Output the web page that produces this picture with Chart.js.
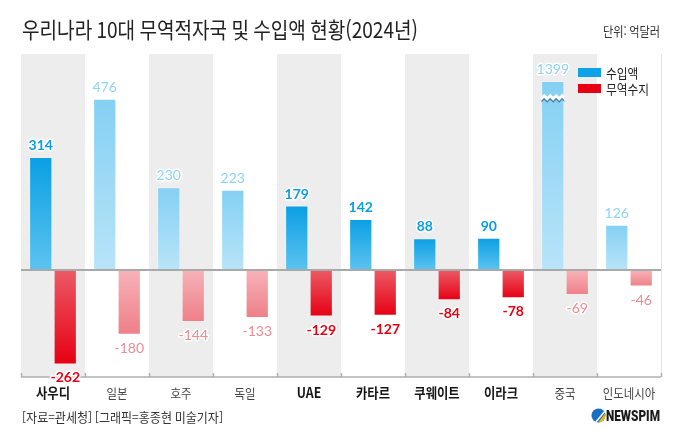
<!DOCTYPE html>
<html lang="ko">
<head>
<meta charset="UTF-8">
<title>우리나라 10대 무역적자국 및 수입액 현황(2024년)</title>
<script src="https://cdn.jsdelivr.net/npm/chart.js"></script>
<style>
  html, body { margin: 0; padding: 0; background: #fff; }
  #wrap { position: relative; width: 680px; height: 442px; }
</style>
</head>
<body>
<div id="wrap"><canvas id="chart"></canvas></div>
<script>
// 국가
var countries = ['사우디', '일본', '호주', '독일', 'UAE', '카타르', '쿠웨이트', '이라크', '중국', '인도네시아'];
// 수입액 (억달러)
var importValues = [314, 476, 230, 223, 179, 142, 88, 90, 1399, 126];
// 무역수지 (억달러)
var balanceValues = [-262, -180, -144, -133, -129, -127, -84, -78, -69, -46];
// 강조 국가 (중동)
var highlighted = ['사우디', 'UAE', '카타르', '쿠웨이트', '이라크'];

// 축 범위와 생략(물결) 구간
var yMin = -297, yMax = 600;
var capValue = 525;
var breakValue = 480;

var KR = '"Noto Sans CJK KR", "Noto Sans", sans-serif';

function isHi(i) { return highlighted.indexOf(countries[i]) >= 0; }

// 글자 가로폭을 줄여서 그리기 (원본 폰트가 약간 좁은 고딕)
function txt(c, s, x, y, font, color, align, sx, fitW) {
    c.save();
    c.font = font;
    c.fillStyle = color;
    c.textBaseline = 'middle';
    var w0 = c.measureText(s).width;
    if (fitW) sx = fitW / w0;
    var w = w0 * sx;
    var x0 = align === 'center' ? x - w / 2 : (align === 'right' ? x - w : x);
    c.translate(x0, y);
    c.scale(sx, 1);
    c.textAlign = 'left';
    c.fillText(s, 0, 0);
    c.restore();
}

function barGradient(context, topColor, bottomColor) {
    var chart = context.chart;
    if (!chart.chartArea || context.raw === undefined) return topColor;
    var ys = chart.scales.y;
    var p1 = ys.getPixelForValue(context.raw), p0 = ys.getPixelForValue(0);
    var top = Math.min(p0, p1), bottom = Math.max(p0, p1);
    if (bottom - top < 1) bottom = top + 1;
    var g = chart.ctx.createLinearGradient(0, top, 0, bottom);
    g.addColorStop(0, topColor);
    g.addColorStop(1, bottomColor);
    return g;
}

var decorPlugin = {
    id: 'decor',
    beforeDatasetsDraw: function (chart) {
        var c = chart.ctx, a = chart.chartArea, xs = chart.scales.x;
        var colW = (a.right - a.left) / countries.length;
        c.save();
        c.fillStyle = '#ededed';
        countries.forEach(function (name, i) {
            if (i % 2 === 0) {
                var cx = xs.getPixelForValue(i);
                c.fillRect(cx - colW / 2, a.top, colW, a.bottom - a.top);
            }
        });
        c.strokeStyle = '#e2e2e2';
        c.lineWidth = 1;
        c.beginPath();
        c.moveTo(a.right + 0.5, a.top);
        c.lineTo(a.right + 0.5, a.bottom);
        c.stroke();
        c.restore();
    },
    afterDatasetsDraw: function (chart) {
        var c = chart.ctx, a = chart.chartArea, xs = chart.scales.x, ys = chart.scales.y;
        var colW = (a.right - a.left) / countries.length;
        c.save();

        // 0 기준선
        var y0 = ys.getPixelForValue(0);
        c.strokeStyle = '#a9a9a9';
        c.lineWidth = 2;
        c.beginPath();
        c.moveTo(a.left, y0);
        c.lineTo(a.right, y0);
        c.stroke();

        // 아래 축선과 눈금
        c.strokeStyle = '#b0b0b0';
        c.lineWidth = 1.5;
        c.beginPath();
        c.moveTo(a.left, a.bottom);
        c.lineTo(a.right, a.bottom);
        for (var k = 0; k <= countries.length; k++) {
            var bx = Math.round(xs.getPixelForValue(0) - colW / 2 + k * colW) + 0.5;
            c.moveTo(bx, a.bottom);
            c.lineTo(bx, a.bottom - 4);
        }
        c.stroke();

        // 물결 생략 표시
        var meta0 = chart.getDatasetMeta(0);
        importValues.forEach(function (v, i) {
            if (v <= capValue) return;
            var p = meta0.data[i].getProps(['x', 'width'], true);
            var L = p.x - p.width / 2, R = p.x + p.width / 2;
            var yb = ys.getPixelForValue(breakValue);
            var step = 3, n = Math.ceil((R - L) / step);
            c.save();
            c.beginPath();
            c.rect(L, yb - 6, R - L, 14);
            c.clip();
            // 그림자
            c.strokeStyle = 'rgba(35,75,100,0.6)';
            c.lineWidth = 1.5;
            c.beginPath();
            for (var j = 0; j <= n; j++) {
                var zx = L + j * step, zy = yb + 3 + (j % 2 ? -1.5 : 1.5);
                if (j === 0) c.moveTo(zx, zy); else c.lineTo(zx, zy);
            }
            c.stroke();
            // 흰 띠
            c.fillStyle = '#fff';
            c.beginPath();
            for (j = 0; j <= n; j++) {
                zx = L + j * step; zy = yb - 2 + (j % 2 ? -1.5 : 1.5);
                if (j === 0) c.moveTo(zx, zy); else c.lineTo(zx, zy);
            }
            for (j = n; j >= 0; j--) {
                zx = L + j * step; zy = yb + 2 + (j % 2 ? -1.5 : 1.5);
                c.lineTo(zx, zy);
            }
            c.closePath();
            c.fill();
            c.restore();
        });

        // 값 라벨
        c.lineJoin = 'round';
        c.textAlign = 'center';
        c.textBaseline = 'alphabetic';
        var meta1 = chart.getDatasetMeta(1);
        countries.forEach(function (name, i) {
            var hi = isHi(i);
            var font = (hi ? 'bold ' : '') + '14px Lato, sans-serif';
            c.font = font;
            c.lineWidth = 3;
            c.strokeStyle = '#fff';

            var b = meta0.data[i].getProps(['x', 'y'], true);
            var s = String(importValues[i]);
            c.fillStyle = hi ? '#0b9de2' : '#8ed3f4';
            c.strokeText(s, b.x, b.y - 7);
            c.fillText(s, b.x, b.y - 7);

            var r = meta1.data[i].getProps(['x', 'y'], true);
            s = String(balanceValues[i]);
            c.fillStyle = hi ? '#e60012' : '#f08a92';
            c.strokeText(s, r.x, r.y + 18);
            c.fillText(s, r.x, r.y + 18);
        });
        c.restore();
    },
    afterDraw: function (chart) {
        var c = chart.ctx, a = chart.chartArea, xs = chart.scales.x;

        // 제목, 단위
        txt(c, '우리나라 10대 무역적자국 및 수입액 현황(2024년)', 22, 30, '400 22px ' + KR, '#222', 'left', 1, 396);
        txt(c, '단위: 억달러', 660, 31, '400 13px ' + KR, '#333', 'right', 0.86);

        // 범례
        c.save();
        c.fillStyle = '#0ea2e6';
        c.fillRect(578, 68, 23, 9);
        c.fillStyle = '#e60012';
        c.fillRect(578, 84, 23, 9);
        c.restore();
        txt(c, '수입액', 606, 73, '400 13px ' + KR, '#222', 'left', 0.9);
        txt(c, '무역수지', 606, 89, '400 13px ' + KR, '#222', 'left', 0.9);

        // 국가 이름
        countries.forEach(function (name, i) {
            var hi = isHi(i);
            txt(c, name, xs.getPixelForValue(i), 393,
                (hi ? '700 14px ' : '400 13px ') + KR, hi ? '#151515' : '#444', 'center', 0.88);
        });

        // 출처
        txt(c, '[자료=관세청] [그래픽=홍종현 미술기자]', 22, 417, '400 13px ' + KR, '#333', 'left', 1, 201);

        // 로고
        c.save();
        var lx = 598.5, ly = 415.5, rr = 7;
        c.beginPath();
        c.arc(lx, ly, rr, 0, Math.PI * 2);
        c.fillStyle = '#1b6fc2';
        c.fill();
        c.clip();
        c.fillStyle = '#f5b50d';
        c.beginPath();
        c.moveTo(lx - 1, ly + rr + 1);
        c.lineTo(lx + rr + 1, ly - 4);
        c.lineTo(lx + rr + 1, ly + rr + 1);
        c.closePath();
        c.fill();
        c.strokeStyle = '#fff';
        c.lineWidth = 1.5;
        c.beginPath();
        c.moveTo(lx - 3, ly + rr);
        c.lineTo(lx + rr, ly - 5);
        c.stroke();
        c.restore();
        txt(c, 'NEWSPIM', 606, 417, '900 15px Roboto, sans-serif', '#1a1a1a', 'left', 1, 54);
    }
};

var ctx = document.getElementById('chart').getContext('2d');
new Chart(ctx, {
    type: 'bar',
    data: {
        labels: countries,
        datasets: [
            {
                label: '수입액',
                data: importValues.map(function (v) { return Math.min(v, capValue); }),
                backgroundColor: function (context) {
                    return isHi(context.dataIndex)
                        ? barGradient(context, '#0a9fe4', '#5cc3f0')
                        : barGradient(context, '#84d0f3', '#b8e4f9');
                },
                borderColor: 'rgba(255,255,255,0.25)',
                borderWidth: 1,
                borderSkipped: false
            },
            {
                label: '무역수지',
                data: balanceValues,
                backgroundColor: function (context) {
                    return isHi(context.dataIndex)
                        ? barGradient(context, '#ec5a66', '#e60012')
                        : barGradient(context, '#f6b3b8', '#ef7e87');
                },
                borderColor: 'rgba(255,255,255,0.25)',
                borderWidth: 1,
                borderSkipped: false
            }
        ]
    },
    options: {
        responsive: true,
        maintainAspectRatio: false,
        animation: false,
        categoryPercentage: 0.765,
        barPercentage: 0.95,
        layout: { padding: { left: 21, right: 19, top: 54, bottom: 65 } },
        plugins: {
            legend: { display: false },
            tooltip: { enabled: false },
            title: { display: false }
        },
        scales: {
            x: { display: false },
            y: { display: false, min: yMin, max: yMax }
        }
    },
    plugins: [decorPlugin]
});
</script>
</body>
</html>
